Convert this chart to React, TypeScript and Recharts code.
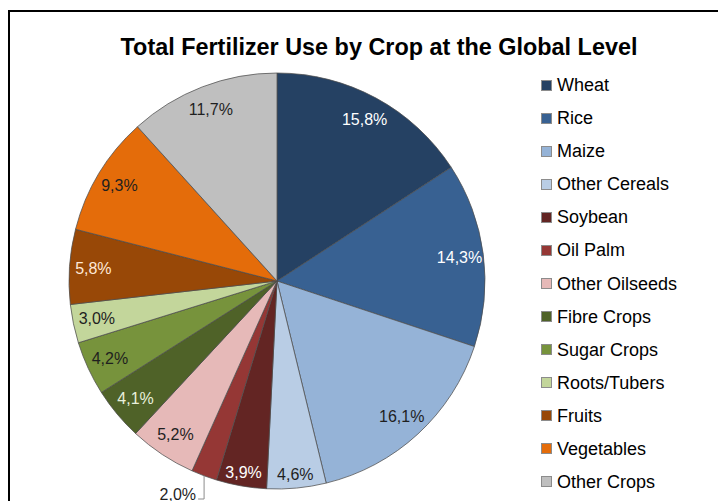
import { PieChart, Pie, Cell } from "recharts";

const crops = [
  "Wheat",
  "Rice",
  "Maize",
  "Other Cereals",
  "Soybean",
  "Oil Palm",
  "Other Oilseeds",
  "Fibre Crops",
  "Sugar Crops",
  "Roots/Tubers",
  "Fruits",
  "Vegetables",
  "Other Crops",
];

const shares = [15.8, 14.3, 16.1, 4.6, 3.9, 2.0, 5.2, 4.1, 4.2, 3.0, 5.8, 9.3, 11.7];

const COLORS = [
  "#254163", // wheat
  "#386192", // rice
  "#95b3d7", // maize
  "#b9cde5", // other cereals
  "#632523", // soybean
  "#953735", // oil palm
  "#e6b9b8", // other oilseeds
  "#4f6228", // fibre
  "#77933c", // sugar
  "#c3d69b", // roots
  "#984807", // fruits
  "#e46c0a", // vegetables
  "#bfbfbf", // other crops
];

// label text colour per slice (light text on the dark ones)
const LABEL_COLORS = [
  "#ffffff",
  "#ffffff",
  "#1f1f1f",
  "#1f1f1f",
  "#ffffff",
  "#1f1f1f",
  "#1f1f1f",
  "#e8f0dc",
  "#1f1f1f",
  "#1f1f1f",
  "#ffe8d8",
  "#1f1f1f",
  "#1f1f1f",
];

const data = crops.map((name, i) => ({ name, value: shares[i] }));

const FONT = "'Liberation Sans', Arial, Helvetica, sans-serif";
const RAD = Math.PI / 180;

const fmt = (v: number) => `${v.toFixed(1).replace(".", ",")}%`;

function renderLabel(props: any) {
  const { cx, cy, midAngle, outerRadius, index, value } = props;
  const cos = Math.cos(-midAngle * RAD);
  const sin = Math.sin(-midAngle * RAD);

  // tiny slice: label outside with a small bracket line
  if (value < 2.5) {
    const ex = cx + outerRadius * cos;
    const ey = cy + outerRadius * sin;
    const by = cy + outerRadius + 10;
    return (
      <g>
        <polyline
          points={`${ex},${ey} ${ex},${by} ${ex - 6},${by}`}
          stroke="#8c8c8c"
          strokeWidth={1}
          fill="none"
        />
        <text
          x={ex - 8}
          y={by - 5}
          textAnchor="end"
          dominantBaseline="central"
          fontFamily={FONT}
          fontSize={16}
          fill="#1f1f1f"
        >
          {fmt(value)}
        </text>
      </g>
    );
  }

  const r = outerRadius * (sin > 0.95 ? 0.935 : 0.885);
  return (
    <text
      x={cx + r * cos}
      y={cy + r * sin}
      textAnchor="middle"
      dominantBaseline="central"
      fontFamily={FONT}
      fontSize={16}
      fill={LABEL_COLORS[index]}
    >
      {fmt(value)}
    </text>
  );
}

function LegendList() {
  return (
    <div style={{ fontFamily: FONT, fontSize: 18, color: "#000" }}>
      {crops.map((name, i) => (
        <div
          key={name}
          style={{ display: "flex", alignItems: "center", height: 33.08 }}
        >
          <span
            style={{
              width: 9,
              height: 9,
              background: COLORS[i],
              border: "1px solid #8c8c8c",
              marginRight: 5,
              flex: "none",
            }}
          />
          <span style={{ lineHeight: "18px" }}>{name}</span>
        </div>
      ))}
    </div>
  );
}

export default function App() {
  return (
    <div
      style={{
        position: "fixed",
        left: 0,
        top: 0,
        width: 718,
        height: 501,
        overflow: "hidden",
        background: "#fff",
      }}
    >
      {/* frame: only the top and left edges fall inside the picture */}
      <div
        style={{
          position: "absolute",
          left: 8,
          top: 10,
          width: 740,
          height: 520,
          border: "2px solid #000",
        }}
      />
      <div
        style={{
          position: "absolute",
          left: 0,
          top: 33,
          width: 758,
          textAlign: "center",
          fontFamily: FONT,
          fontWeight: "bold",
          fontSize: 23.4,
          lineHeight: "28px",
          color: "#000",
        }}
      >
        Total Fertilizer Use by Crop at the Global Level
      </div>
      <div style={{ position: "absolute", left: 0, top: 0 }}>
        <PieChart width={718} height={501} margin={{ top: 0, right: 0, bottom: 0, left: 0 }}>
          <Pie
            data={data}
            dataKey="value"
            nameKey="name"
            cx={277}
            cy={281}
            outerRadius={208}
            startAngle={90}
            endAngle={-270}
            stroke="#4d4d4d"
            strokeWidth={0.75}
            label={renderLabel}
            labelLine={false}
            isAnimationActive={false}
          >
            {data.map((entry, index) => (
              <Cell key={`cell-${index}`} fill={COLORS[index]} />
            ))}
          </Pie>
        </PieChart>
      </div>
      <div style={{ position: "absolute", left: 541, top: 68.5, width: 170 }}>
        <LegendList />
      </div>
    </div>
  );
}
